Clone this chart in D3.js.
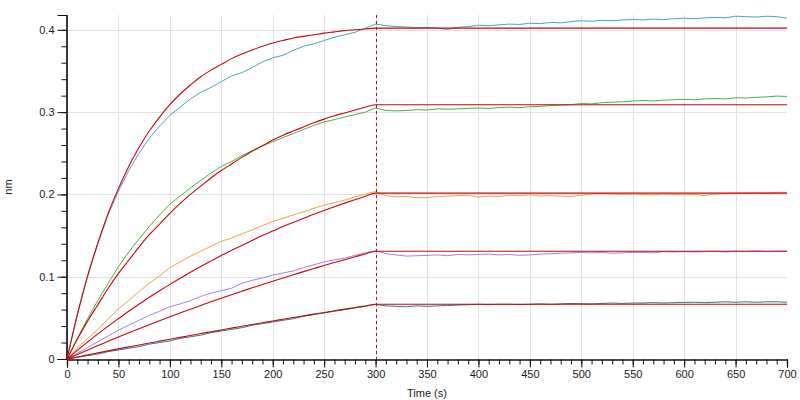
<!DOCTYPE html>
<html>
<head>
<meta charset="utf-8">
<script src="https://cdn.jsdelivr.net/npm/d3@7/dist/d3.min.js"></script>
<style>
  html, body { margin: 0; padding: 0; background: #ffffff; }
  svg { display: block; }
  text { font-family: Arial, "Liberation Sans", sans-serif; fill: #1a1a1a; }
</style>
</head>
<body>
<svg id="chart" width="800" height="400"></svg>
<script>
// ---------- DATA ----------
const xTickLabels = [0, 50, 100, 150, 200, 250, 300, 350, 400, 450, 500, 550, 600, 650, 700];
const yTickLabels = [0, 0.1, 0.2, 0.3, 0.4];
const switchTime = 300;

// measurement times (s)
const times = [0,10,20,30,40,50,60,70,80,90,100,110,120,130,140,150,160,170,180,190,200,
  210,220,230,240,250,260,270,280,290,300,310,320,330,340,350,360,370,380,390,400,
  410,420,430,440,450,460,470,480,490,500,510,520,530,540,550,560,570,580,590,600,
  610,620,630,640,650,660,670,680,690,700];

// measured response (nm)
const seriesTeal = [0,0.053,0.100,0.140,0.175,0.204,0.229,0.250,0.268,0.283,0.296,0.306,0.316,0.324,0.330,0.337,0.344,0.348,0.354,0.361,0.366,
  0.369,0.375,0.380,0.383,0.387,0.391,0.394,0.397,0.402,0.407,0.405,0.404,0.4035,0.4025,0.403,0.402,0.4005,0.403,0.404,0.4055,
  0.405,0.406,0.407,0.4065,0.408,0.4075,0.409,0.4085,0.410,0.411,0.4105,0.4115,0.411,0.412,0.4125,0.412,0.413,0.4125,0.4135,0.414,
  0.4135,0.4145,0.415,0.4145,0.4165,0.416,0.4155,0.4165,0.416,0.414];
const seriesGreen = [0,0.025,0.049,0.071,0.092,0.112,0.130,0.146,0.161,0.175,0.188,0.198,0.208,0.217,0.226,0.234,0.240,0.247,0.253,0.259,0.264,
  0.269,0.274,0.279,0.284,0.288,0.291,0.294,0.297,0.300,0.305,0.302,0.3015,0.302,0.303,0.3025,0.304,0.3035,0.304,0.3045,0.305,
  0.3045,0.3055,0.306,0.3055,0.3065,0.307,0.308,0.3085,0.309,0.3105,0.310,0.3115,0.312,0.3125,0.3135,0.314,0.3135,0.3145,0.315,0.3155,
  0.315,0.316,0.3165,0.316,0.3175,0.317,0.318,0.3185,0.3195,0.319];
const seriesOrange = [0,0.013,0.025,0.036,0.049,0.061,0.071,0.082,0.092,0.101,0.111,0.118,0.125,0.131,0.137,0.143,0.147,0.152,0.157,0.162,0.167,
  0.171,0.175,0.179,0.183,0.187,0.190,0.193,0.197,0.2005,0.2035,0.1985,0.197,0.1975,0.196,0.196,0.1975,0.198,0.1985,0.199,0.1965,
  0.198,0.1975,0.199,0.1985,0.1995,0.198,0.1985,0.198,0.1975,0.199,0.2005,0.201,0.2005,0.200,0.2005,0.200,0.1995,0.2005,0.200,0.1995,
  0.200,0.1985,0.2005,0.201,0.2015,0.2015,0.202,0.2015,0.2025,0.2025];
const seriesPurple = [0,0.007,0.014,0.021,0.028,0.035,0.041,0.047,0.053,0.058,0.0635,0.067,0.071,0.076,0.080,0.083,0.086,0.092,0.0955,0.0985,0.102,
  0.1045,0.107,0.111,0.1145,0.118,0.1205,0.1225,0.126,0.129,0.1315,0.128,0.1265,0.125,0.1255,0.126,0.1265,0.1255,0.127,0.1265,0.127,
  0.1275,0.1265,0.127,0.126,0.1265,0.1275,0.128,0.1285,0.129,0.1295,0.129,0.1295,0.1285,0.129,0.1295,0.1295,0.129,0.1305,0.130,0.1305,
  0.130,0.1305,0.131,0.130,0.131,0.1305,0.1315,0.1305,0.131,0.131];
const seriesDarkTeal = [0,0.002,0.004,0.006,0.009,0.011,0.013,0.015,0.018,0.020,0.022,0.025,0.027,0.029,0.032,0.034,0.036,0.038,0.041,0.043,0.045,
  0.047,0.049,0.052,0.054,0.056,0.058,0.060,0.062,0.064,0.0665,0.0645,0.064,0.0635,0.0645,0.064,0.0645,0.065,0.0655,0.066,0.0665,
  0.066,0.0665,0.0665,0.066,0.0665,0.067,0.0665,0.067,0.0675,0.0672,0.067,0.0675,0.068,0.0675,0.068,0.068,0.0685,0.068,0.0685,0.0687,
  0.069,0.0685,0.069,0.0695,0.069,0.0695,0.069,0.0695,0.0695,0.069];

// fitted curves (association 0-300 s, then flat dissociation)
const fitTimes = [0,10,20,30,40,50,60,70,80,90,100,110,120,130,140,150,160,170,180,190,200,
  210,220,230,240,250,260,270,280,290,300,700];
const fitTeal = [0,0.054,0.101,0.141,0.177,0.207,0.234,0.257,0.277,0.294,0.309,0.322,0.333,0.343,0.351,0.358,0.365,0.3705,0.3755,0.380,0.384,
  0.387,0.390,0.392,0.394,0.396,0.3975,0.399,0.400,0.401,0.402,0.402];
const fitGreen = [0,0.024,0.046,0.066,0.086,0.104,0.120,0.136,0.151,0.164,0.177,0.189,0.200,0.210,0.220,0.229,0.237,0.245,0.2525,0.259,0.266,
  0.272,0.277,0.282,0.287,0.2915,0.2955,0.299,0.3025,0.306,0.309,0.309];
const fitOrange = [0,0.0105,0.0206,0.0305,0.040,0.049,0.058,0.0666,0.075,0.083,0.0907,0.098,0.1054,0.1124,0.1192,0.1258,0.132,0.138,0.144,0.150,0.1554,
  0.161,0.166,0.171,0.176,0.1805,0.185,0.1894,0.1936,0.1977,0.2016,0.2016];
const fitPurple = [0,0.0055,0.011,0.0163,0.0216,0.0267,0.0318,0.0368,0.0417,0.0465,0.0513,0.0559,0.0605,0.065,0.0695,0.0738,0.0781,0.0823,0.0865,0.0905,0.0945,
  0.0985,0.1023,0.1062,0.1099,0.1136,0.1172,0.1207,0.1242,0.1277,0.131,0.131];
const fitDarkTeal = [0,0.0025,0.005,0.0074,0.0099,0.0123,0.0147,0.017,0.0194,0.0217,0.024,0.0263,0.0286,0.0309,0.0331,0.0353,0.0375,0.0397,0.0419,0.044,0.0462,
  0.0483,0.0504,0.0524,0.0545,0.0566,0.0586,0.0606,0.0625,0.0645,0.0665,0.0665];

const measured = [
  {values: seriesTeal, color: "#4aa6b9"},
  {values: seriesGreen, color: "#46b23c"},
  {values: seriesOrange, color: "#f3a23e"},
  {values: seriesPurple, color: "#a67fd8"},
  {values: seriesDarkTeal, color: "#2c7b88"}
];
const fits = [fitTeal, fitGreen, fitOrange, fitPurple, fitDarkTeal];

// ---------- CHART ----------
const svg = d3.select("#chart");
const plotLeft = 67, plotRight = 787, plotTop = 15, plotBottom = 359;

const x = d3.scaleLinear().domain([0, 700]).range([plotLeft, plotRight]);
const y = d3.scaleLinear().domain([0, 0.418]).range([plotBottom, plotTop]);

// grid
const grid = svg.append("g").attr("stroke", "#e2e2e2").attr("stroke-width", 1);
grid.selectAll("line.vx").data(xTickLabels.filter(d => d > 0 && d < 700)).enter().append("line")
  .attr("x1", d => Math.round(x(d)) + 0.5).attr("x2", d => Math.round(x(d)) + 0.5)
  .attr("y1", plotTop).attr("y2", plotBottom);
grid.selectAll("line.hy").data(yTickLabels.filter(d => d > 0)).enter().append("line")
  .attr("x1", plotLeft).attr("x2", plotRight)
  .attr("y1", d => Math.round(y(d)) + 0.5).attr("y2", d => Math.round(y(d)) + 0.5);

// axes
const xMinor = d3.range(0, 701, 10);
const yMinor = d3.range(0, 0.4181, 0.02);

const xAxisMinor = d3.axisBottom(x).tickValues(xMinor).tickSize(5).tickFormat("");
const xAxisMajor = d3.axisBottom(x).tickValues(xTickLabels).tickSize(8).tickFormat(d3.format("d")).tickPadding(3);
const yAxisMinor = d3.axisLeft(y).tickValues(yMinor).tickSize(5).tickFormat("");
const yAxisMajor = d3.axisLeft(y).tickValues(yTickLabels).tickSize(9).tickFormat(d => d === 0 ? "0" : d3.format(".1f")(d)).tickPadding(3);

function styleAxis(g) {
  g.select(".domain").attr("stroke", "#111").attr("stroke-width", 1.2);
  g.selectAll(".tick line").attr("stroke", "#111");
  g.selectAll(".tick text").attr("font-size", 11).attr("fill", "#1a1a1a")
    .attr("font-family", "Arial, 'Liberation Sans', sans-serif");
}
svg.append("g").attr("transform", `translate(0,${plotBottom + 0.5})`).call(xAxisMinor).call(styleAxis);
svg.append("g").attr("transform", `translate(0,${plotBottom + 0.5})`).call(xAxisMajor).call(styleAxis);
svg.append("g").attr("transform", `translate(${plotLeft - 0.5},0)`).call(yAxisMinor).call(styleAxis);
svg.append("g").attr("transform", `translate(${plotLeft - 0.5},0)`).call(yAxisMajor).call(styleAxis);

// axis titles
svg.append("text").attr("x", (plotLeft + plotRight) / 2).attr("y", 397)
  .attr("text-anchor", "middle").attr("font-size", 11).text("Time (s)");
svg.append("text").attr("transform", `translate(12,${(plotTop + plotBottom) / 2}) rotate(-90)`)
  .attr("text-anchor", "middle").attr("font-size", 11).text("nm");

// measured curves
const line = d3.line().x((d, i) => x(times[i])).y(d => y(d));
svg.append("g").selectAll("path.m").data(measured).enter().append("path")
  .attr("fill", "none").attr("stroke", d => d.color).attr("stroke-width", 1)
  .attr("d", d => line(d.values));

// fitted curves
const fitLine = d3.line().x((d, i) => x(fitTimes[i])).y(d => y(d)).curve(d3.curveMonotoneX);
svg.append("g").selectAll("path.f").data(fits).enter().append("path")
  .attr("fill", "none").attr("stroke", "#c8060c").attr("stroke-width", 1.1)
  .attr("d", d => fitLine(d));

// association / dissociation divider
svg.append("line")
  .attr("x1", Math.round(x(switchTime)) + 0.5).attr("x2", Math.round(x(switchTime)) + 0.5)
  .attr("y1", plotTop).attr("y2", plotBottom)
  .attr("stroke", "#a01822").attr("stroke-width", 1).attr("stroke-dasharray", "3,3");
</script>
</body>
</html>
